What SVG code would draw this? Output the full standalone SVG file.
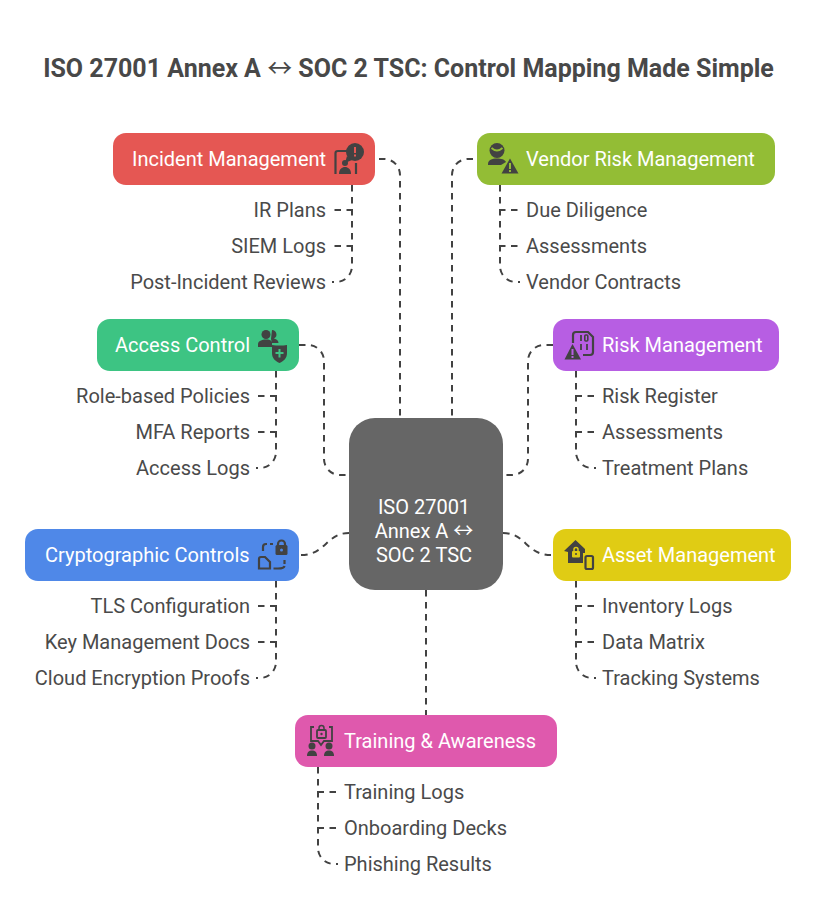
<svg xmlns="http://www.w3.org/2000/svg" width="816" height="924" viewBox="0 0 816 924">
<style>
text{font-family:Roboto,"Liberation Sans",sans-serif}
.a{font-family:"Noto Sans CJK JP","DejaVu Sans",sans-serif;font-weight:400}
.t{font-size:25px;font-weight:700;fill:#484848;text-anchor:middle}
.n{font-size:20px;font-weight:450;fill:#fff}
.c{font-size:20px;font-weight:400;fill:#fff;text-anchor:middle}
.i{font-size:20px;fill:#4a4a4a}
.e{text-anchor:end}
.l{fill:none;stroke:#424242;stroke-width:2;stroke-dasharray:6.500 5.500}
.k{fill:#424242}
.s{fill:none;stroke:#424242;stroke-width:2.200}
</style>
<rect width="816" height="924" fill="#fff"/>
<text class="t" x="408.500" y="77">ISO 27001 Annex A <tspan class="a">↔</tspan> SOC 2 TSC: Control Mapping Made Simple</text>
<g id="connectors">
<path class="l" d="M379 159H384A16 16 0 0 1 400 175V418"/>
<path class="l" d="M473 159H468A16 16 0 0 0 452 175V418"/>
<path class="l" d="M299 345H308A16 16 0 0 1 324 361V459A16 16 0 0 0 340 475H349"/>
<path class="l" d="M553 345H544A16 16 0 0 0 528 361V459A16 16 0 0 1 512 475H503"/>
<path class="l" d="M301 555C326 555 326 533 349 533"/>
<path class="l" d="M503 533C526 533 526 555 551 555"/>
<path class="l" d="M426 590V715"/>
<path class="l" d="M352 185V266A16 16 0 0 1 336 282H332M334.500 210H352M334.500 246H352"/>
<path class="l" d="M500 185V266A16 16 0 0 0 516 282H520M517.500 210H500M517.500 246H500"/>
<path class="l" d="M276 371V452A16 16 0 0 1 260 468H256M258 396H276M258 432H276"/>
<path class="l" d="M576 371V452A16 16 0 0 0 592 468H596M594 396H576M594 432H576"/>
<path class="l" d="M276 581V662A16 16 0 0 1 260 678H256M258 606H276M258 642H276"/>
<path class="l" d="M576 581V662A16 16 0 0 0 592 678H596M594 606H576M594 642H576"/>
<path class="l" d="M318 767V848A16 16 0 0 0 334 864H338M336 792H318M336 828H318"/>
</g>
<g id="center">
<rect x="349" y="418" width="154" height="172" rx="26" fill="#666"/>
<text class="c" x="424" y="514">ISO 27001</text>
<text class="c" x="424" y="538">Annex A <tspan class="a">↔</tspan></text>
<text class="c" x="424" y="562">SOC 2 TSC</text>
</g>
<g id="incident">
<rect x="113" y="133" width="262" height="52" rx="13" fill="#e55753"/>
<text class="n" x="132" y="166">Incident Management</text>
<path class="s" d="M335.500 174V153Q335.500 151 338 151H347M356 174V163"/>
<circle class="k" cx="355" cy="152" r="9"/>
<path class="k" d="M347 156L345 163L352 160Z"/>
<rect x="354" y="147" width="2" height="6" fill="#e55753"/><rect x="354" y="154.500" width="2" height="2" fill="#e55753"/>
<circle class="k" cx="345" cy="163" r="3"/>
<path class="k" d="M339 174C339 169 342 167 345 167S351 169 351 174Z"/>
<text class="i e" x="326" y="217">IR Plans</text>
<text class="i e" x="326" y="253">SIEM Logs</text>
<text class="i e" x="326" y="289">Post-Incident Reviews</text>
</g>
<g id="vendor">
<rect x="477" y="133" width="298" height="52" rx="13" fill="#93bd35"/>
<text class="n" x="526" y="166">Vendor Risk Management</text>
<circle class="k" cx="497" cy="150.500" r="7.500"/>
<path d="M491.500 148Q497 153 502.500 148" fill="none" stroke="#93bd35" stroke-width="1.800"/>
<path class="k" d="M488 164C488 160 492 158.500 497 158.500C501 158.500 505 159.500 506 162L501 165H488Z"/>
<path class="k" d="M510 158.500L518.500 173.500H501.500Z"/>
<rect x="509" y="163" width="2" height="6" fill="#93bd35"/><rect x="509" y="170" width="2" height="2" fill="#93bd35"/>
<text class="i" x="526" y="217">Due Diligence</text>
<text class="i" x="526" y="253">Assessments</text>
<text class="i" x="526" y="289">Vendor Contracts</text>
</g>
<g id="access">
<rect x="97" y="319" width="202" height="52" rx="13" fill="#3dc483"/>
<text class="n" x="115" y="352">Access Control</text>
<path class="k" d="M272 330A4.500 4.500 0 0 1 274 338.500C277 339 278.500 341 278.500 343H272L271 339Z"/>
<circle class="k" cx="266" cy="334.500" r="4.500"/>
<path class="k" d="M258 347V344C258 341 262 339.500 266 339.500C269 339.500 271 340 272 342V347Z"/>
<path class="k" d="M272 345Q280 346 287 345V353C287 358 284 361 279.500 363C275 361 272 358 272 353Z"/>
<path d="M279.500 349V357.500M275.500 353H283.500" stroke="#3dc483" stroke-width="2"/>
<text class="i e" x="250" y="403">Role-based Policies</text>
<text class="i e" x="250" y="439">MFA Reports</text>
<text class="i e" x="250" y="475">Access Logs</text>
</g>
<g id="risk">
<rect x="553" y="319" width="226" height="52" rx="13" fill="#b75ee3"/>
<text class="n" x="602" y="352">Risk Management</text>
<path class="s" d="M573 343V335Q573 332 576 332H588L593 337V352Q593 355 590 355H583"/>
<path d="M581 335V341M581 344V350M587 344V350" stroke="#424242" stroke-width="1.800"/>
<rect x="584.800" y="335" width="3" height="6" rx="1" fill="none" stroke="#424242" stroke-width="1.600"/>
<path class="k" d="M572.500 344L581 359.500H564.500Z"/>
<rect x="571.500" y="349" width="2" height="6" fill="#b75ee3"/><rect x="571.500" y="356" width="2" height="2" fill="#b75ee3"/>
<text class="i" x="602" y="403">Risk Register</text>
<text class="i" x="602" y="439">Assessments</text>
<text class="i" x="602" y="475">Treatment Plans</text>
</g>
<g id="crypto">
<rect x="25" y="529" width="274" height="52" rx="13" fill="#4f88e8"/>
<text class="n" x="45" y="562">Cryptographic Controls</text>
<path class="s" d="M263 551V547Q263 544 266 544H267M270 544H273M273.500 568.500H278Q284 568.500 284.500 566M284.500 564V560"/>
<path class="s" d="M259 568.500V559Q259 557 261 557H265L270 562V568.500Z"/>
<path class="s" d="M278 546V544A3.500 3.500 0 0 1 285 544V546" stroke-width="2"/>
<rect class="k" x="275.500" y="545" width="12" height="10" rx="1.500"/>
<circle cx="281.500" cy="550" r="1.500" fill="#4f88e8"/>
<text class="i e" x="250" y="613">TLS Configuration</text>
<text class="i e" x="250" y="649">Key Management Docs</text>
<text class="i e" x="250" y="685">Cloud Encryption Proofs</text>
</g>
<g id="asset">
<rect x="553" y="529" width="238" height="52" rx="13" fill="#e0cc14"/>
<text class="n" x="602" y="562">Asset Management</text>
<path class="k" d="M564 551L575.500 540L585 549V553H583V563H568V552Z"/>
<rect x="572" y="551" width="8" height="6.500" rx="1" fill="#e0cc14"/>
<path d="M574 551V549.500A2 2 0 0 1 578 549.500V551" fill="none" stroke="#e0cc14" stroke-width="1.500"/>
<circle cx="576" cy="554" r="1" class="k"/>
<rect x="585.500" y="556" width="7.500" height="13" rx="1.500" fill="#e0cc14" stroke="#424242" stroke-width="2.200"/>
<text class="i" x="602" y="613">Inventory Logs</text>
<text class="i" x="602" y="649">Data Matrix</text>
<text class="i" x="602" y="685">Tracking Systems</text>
</g>
<g id="training">
<rect x="295" y="715" width="262" height="52" rx="13" fill="#df59ad"/>
<text class="n" x="344" y="748">Training &amp; Awareness</text>
<path d="M314 727H311V741H318L321 745L324 741H332V727H329" fill="none" stroke="#424242" stroke-width="1.800"/>
<rect x="317" y="730" width="9" height="8" rx="1" fill="none" stroke="#424242" stroke-width="1.800"/>
<path d="M319 730V728A2.500 2.500 0 0 1 324 728V730" fill="none" stroke="#424242" stroke-width="1.500"/>
<circle class="k" cx="321.500" cy="734" r="1.200"/>
<circle class="k" cx="312" cy="746" r="3.500"/>
<path class="k" d="M307 756C307 752 309 750.500 312 750.500S317 752 317 756Z"/>
<circle class="k" cx="329" cy="746" r="3.500"/>
<path class="k" d="M324 756C324 752 326 750.500 329 750.500S334 752 334 756Z"/>
<text class="i" x="344" y="799">Training Logs</text>
<text class="i" x="344" y="835">Onboarding Decks</text>
<text class="i" x="344" y="871">Phishing Results</text>
</g>
</svg>
